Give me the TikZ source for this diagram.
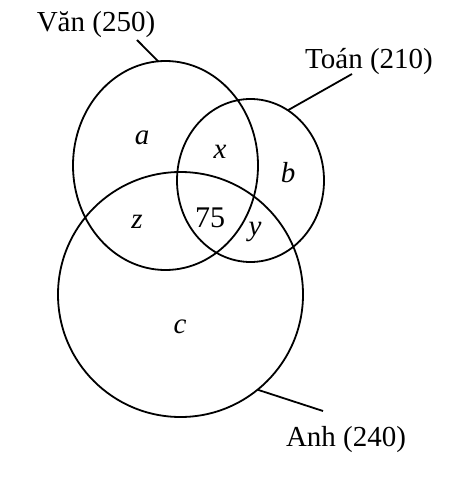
\documentclass[tikz,border=0pt]{standalone}
\usepackage{fontspec}
\setmainfont{Liberation Serif}
\usetikzlibrary{shapes.geometric}
\begin{document}
\begin{tikzpicture}[x=1pt,y=-1pt,
  setshape/.style={draw, ellipse, line width=1.8pt, inner sep=0pt, outer sep=0pt},
  lbl/.style={font=\fontsize{29}{32}\selectfont, inner sep=0pt},
  var/.style={font=\fontsize{29}{32}\selectfont\itshape, inner sep=0pt},
  num/.style={font=\fontsize{30}{32}\selectfont, inner sep=0pt},
  lead/.style={line width=1.8pt}]
\useasboundingbox (0,0) rectangle (475,494);
% sets
\node[setshape, minimum width=185pt, minimum height=209pt] (van) at (165.5,165.5) {};
\node[setshape, minimum width=147pt, minimum height=163pt] (toan) at (250.5,180.5) {};
\node[setshape, minimum width=245pt, minimum height=245pt] (anh) at (180.5,294.5) {};
% labels
\node[lbl] (vanlbl) at (96,25) {Văn (250)};
\node[lbl] (toanlbl) at (369,62) {Toán (210)};
\node[lbl] (anhlbl) at (346,440) {Anh (240)};
% leader ends
\coordinate (vanend) at (137,40);
\coordinate (toanend) at (352,74);
\coordinate (anhend) at (323,411);
\draw[lead] (vanend) -- (van.94);
\draw[lead] (toanend) -- (toan.62);
\draw[lead] (anhend) -- (anh.-51.5);
% region labels
\node[var] (ra) at (142,138) {a};
\node[var] (rx) at (220,152) {x};
\node[var] (rb) at (288,173) {b};
\node[var] (rz) at (137,222) {z};
\node[num] (rm) at (210,218) {75};
\node[var] (ry) at (255,232) {y};
\node[var] (rc) at (180,327) {c};
\end{tikzpicture}
\end{document}
